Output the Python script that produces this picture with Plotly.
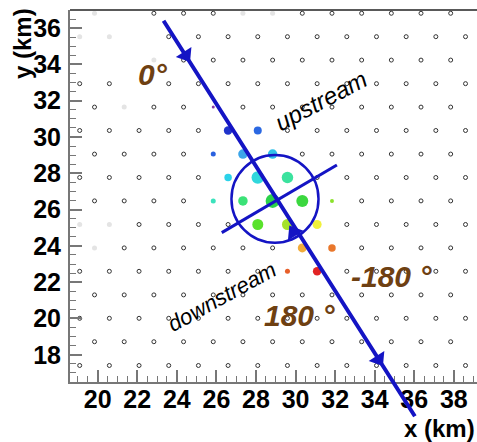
import plotly.graph_objects as go

# ---------------- data (km) ----------------
# surface detector grid rows
station_row_y_km = [36.82, 35.53, 34.24, 32.94, 31.65, 30.36, 29.06, 27.77,
                    26.48, 25.18, 23.89, 22.60, 21.30, 20.01, 18.72, 17.41]
station_row_x0_km = [19.84, 19.09, 19.84, 19.09, 19.84, 19.09, 19.84, 19.09,
                     19.84, 19.09, 19.84, 19.09, 19.84, 19.09, 19.84, 19.09]
station_row_count = [13, 14, 13, 14, 13, 14, 13, 14, 13, 14, 13, 14, 13, 14, 13, 14]
station_spacing_km = 1.5
missing_stations = [(0, 1), (1, 2), (2, 0), (2, 1), (3, 2)]
faint_stations = [(0, 0), (0, 5), (0, 6), (1, 0), (1, 1), (2, 2), (4, 1),
                  (9, 0), (9, 1), (10, 0)]

# triggered stations
hit_x = [25.84, 26.59, 28.09, 25.84, 27.34, 28.84, 26.59, 28.09, 29.59, 25.84, 27.34,
         28.84, 30.34, 31.84, 28.09, 29.59, 31.09, 30.34, 31.84, 29.59, 31.09]
hit_y = [31.65, 30.36, 30.36, 29.06, 29.06, 29.06, 27.77, 27.77, 27.77, 26.48, 26.48,
         26.48, 26.48, 26.48, 25.18, 25.18, 25.18, 23.89, 23.89, 22.60, 22.60]
hit_signal = [3, 8.5, 8, 5, 9.5, 9.5, 7.5, 12.5, 11.5, 5, 9.5,
              14, 12, 4, 11, 11, 9, 9, 7.5, 5, 8.5]
hit_time = [0, 10, 18, 17, 30, 35, 38, 40, 48, 45, 52,
            56, 58, 66, 62, 68, 75, 84, 90, 93, 100]
time_palette = [[0.00, '#8030a0'], [0.10, '#1428c8'], [0.18, '#2060e0'],
                [0.30, '#30a0e8'], [0.38, '#20d0e8'], [0.45, '#30e0b8'],
                [0.52, '#30e070'], [0.56, '#20d040'], [0.62, '#50e020'],
                [0.68, '#a0e020'], [0.75, '#f0f030'], [0.84, '#f0a830'],
                [0.90, '#e87020'], [1.00, '#e01818']]

# shower axis, core circle and perpendicular
axis_start = (23.28, 36.49)
axis_end = (36.03, 14.61)
perp_start = (26.27, 24.73)
perp_end = (32.09, 28.46)
core_center = (28.96, 26.59)
core_rx, core_ry = 2.2, 2.42
arrow_x = [24.45, 34.2, 29.9]
arrow_y = [34.5, 17.75, 24.75]
arrow_symbol = ['triangle-down', 'triangle-down', 'triangle-up']

x_range = [18.6, 39.17]
y_range = [16.5, 37.0]

BLUE = '#1414c4'
BROWN = '#6e4012'

# ---------------- build station lists ----------------
def is_hit(x, y):
    return any(abs(x - hx) < 0.3 and abs(y - hy) < 0.3 for hx, hy in zip(hit_x, hit_y))

st_x, st_y, fa_x, fa_y = [], [], [], []
for r, (yy, x0, n) in enumerate(zip(station_row_y_km, station_row_x0_km, station_row_count)):
    for c in range(n):
        xx = x0 + c * station_spacing_km
        if (r, c) in missing_stations or is_hit(xx, yy):
            continue
        if (r, c) in faint_stations:
            fa_x.append(xx); fa_y.append(yy)
        else:
            st_x.append(xx); st_y.append(yy)

fig = go.Figure()
fig.add_trace(go.Scatter(x=fa_x, y=fa_y, mode='markers',
                         marker=dict(symbol='circle', size=5, color='#e4e4e4'),
                         hoverinfo='skip'))
fig.add_trace(go.Scatter(x=st_x, y=st_y, mode='markers',
                         marker=dict(symbol='circle-open', size=4, color='#333333',
                                     line=dict(width=1, color='#333333')),
                         hoverinfo='skip'))
fig.add_trace(go.Scatter(x=hit_x, y=hit_y, mode='markers',
                         marker=dict(size=hit_signal, color=hit_time, colorscale=time_palette,
                                     cmin=0, cmax=100, line=dict(width=0), opacity=0.95),
                         hoverinfo='skip'))

# core circle and perpendicular line
fig.add_shape(type='circle', xref='x', yref='y',
              x0=core_center[0] - core_rx, x1=core_center[0] + core_rx,
              y0=core_center[1] - core_ry, y1=core_center[1] + core_ry,
              line=dict(color=BLUE, width=2.5))
fig.add_shape(type='line', xref='x', yref='y',
              x0=perp_start[0], y0=perp_start[1], x1=perp_end[0], y1=perp_end[1],
              line=dict(color=BLUE, width=3))

# shower axis (extends below the frame)
fig.add_annotation(x=axis_end[0], y=axis_end[1], ax=axis_start[0], ay=axis_start[1],
                   xref='x', yref='y', axref='x', ayref='y', text='',
                   showarrow=True, arrowhead=0, arrowwidth=4, arrowcolor=BLUE)

fig.add_trace(go.Scatter(x=arrow_x, y=arrow_y, mode='markers',
                         marker=dict(symbol=arrow_symbol, size=16, color=BLUE,
                                     angle=-32.4, line=dict(width=0)),
                         hoverinfo='skip', cliponaxis=False))

# text labels
fig.add_annotation(x=22.79, y=33.42, text='<b><i>0°</i></b>', showarrow=False,
                   font=dict(family='Liberation Sans', size=30, color=BROWN))
fig.add_annotation(x=34.87, y=22.29, text='<b><i>-180 °</i></b>', showarrow=False,
                   font=dict(family='Liberation Sans', size=30, color=BROWN))
fig.add_annotation(x=30.22, y=20.14, text='<b><i>180 °</i></b>', showarrow=False,
                   font=dict(family='Liberation Sans', size=30, color=BROWN))
fig.add_annotation(x=31.3, y=32.0, text='<i>upstream</i>', showarrow=False, textangle=-28,
                   font=dict(family='Liberation Sans', size=24, color='black'))
fig.add_annotation(x=26.3, y=21.2, text='<i>downstream</i>', showarrow=False, textangle=-29,
                   font=dict(family='Liberation Sans', size=22, color='black'))

# axis titles
fig.add_annotation(xref='paper', yref='paper', x=-0.115, y=0.909, text='<b>y (km)</b>',
                   textangle=-90, showarrow=False, xanchor='center', yanchor='middle',
                   font=dict(family='Liberation Sans', size=24, color='black'))
fig.add_annotation(xref='paper', yref='paper', x=1.0, y=-0.125, text='<b>x (km)</b>',
                   showarrow=False, xanchor='right', yanchor='middle',
                   font=dict(family='Liberation Sans', size=24, color='black'))

# top frame line
fig.add_shape(type='line', xref='paper', yref='paper', x0=0, x1=1, y0=1, y1=1,
              line=dict(color='#222222', width=1.5))

axis_common = dict(ticks='inside', ticklen=12, tickwidth=1.5, tickcolor='#777777',
                   showline=True, linecolor='#777777', linewidth=2, showgrid=False,
                   zeroline=False, tick0=0, dtick=2, automargin=False,
                   tickfont=dict(family='Liberation Sans', size=25, color='black', weight='bold'),
                   minor=dict(dtick=0.5, ticks='inside', ticklen=6, tickcolor='#777777',
                              tickwidth=1, showgrid=False))
fig.update_xaxes(range=x_range, ticklabelstandoff=-6, **axis_common)
fig.update_yaxes(range=y_range, ticklabelstandoff=2, **axis_common)

fig.update_layout(width=477, height=442, margin=dict(l=70, r=0, t=10, b=60),
                  plot_bgcolor='white', paper_bgcolor='white', showlegend=False)

fig.write_html('out.html', config={'displayModeBar': False},
               post_script="document.body.style.margin='0';document.body.style.overflow='hidden';")
